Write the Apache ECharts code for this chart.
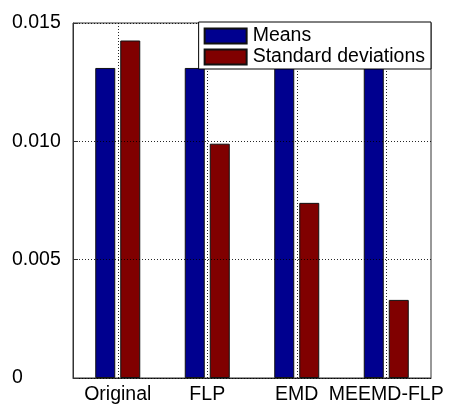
<!DOCTYPE html>
<html>
<head>
<meta charset="utf-8">
<script src="https://cdn.jsdelivr.net/npm/echarts@6/dist/echarts.min.js"></script>
<style>html,body{margin:0;padding:0;background:#fff;}#c{width:449px;height:405px;}</style>
</head>
<body>
<div id="c"></div>
<script>
const categories = ['Original', 'FLP', 'EMD', 'MEEMD-FLP'];
const means = [0.0131, 0.0131, 0.0131, 0.0131];
const stds = [0.01426, 0.0099, 0.0074, 0.0033];
const yTicks = [0, 0.005, 0.010, 0.015];
const seriesNames = ['Means', 'Standard deviations'];

const FONT = 'Liberation Sans, Arial, sans-serif';
const chart = echarts.init(document.getElementById('c'), null, {renderer: 'canvas'});
// helper axis: half-band positions so that split lines fall on category centres
const helperData = [''];
categories.forEach(c => { helperData.push(c); helperData.push(''); });
const dotted = {color: '#000', width: 1, type: [1, 2], opacity: 0.85};
chart.setOption({
  animation: false,
  backgroundColor: '#fff',
  grid: {left: 73, right: 18, top: 23, bottom: 23, show: true, borderColor: '#333', borderWidth: 1},
  legend: {
    right: 18, top: 22, orient: 'vertical', z: 20,
    backgroundColor: '#fff', borderColor: '#000', borderWidth: 1,
    padding: [4, 6, 2, 5], itemGap: 1, itemWidth: 42, itemHeight: 15, icon: 'rect',
    textStyle: {fontFamily: FONT, fontSize: 19.5, color: '#000', padding: [0, 0, 0, 1]},
    data: seriesNames
  },
  xAxis: [{
    type: 'category', data: categories,
    axisLine: {lineStyle: {color: '#333'}},
    axisTick: {show: false},
    axisLabel: {fontFamily: FONT, fontSize: 19.5, color: '#000', margin: 7, interval: 0},
    splitLine: {show: false}
  }, {
    type: 'category', data: helperData, boundaryGap: false, position: 'bottom', z: 10,
    axisLine: {show: false}, axisTick: {show: false}, axisLabel: {show: false},
    splitLine: {show: true, interval: (i) => i % 2 === 1, lineStyle: dotted}
  }],
  yAxis: {
    type: 'value', min: 0, max: 0.015, interval: 0.005, z: 10,
    axisLine: {show: true, lineStyle: {color: '#333'}},
    axisTick: {show: true, inside: true, length: 5, lineStyle: {color: '#333'}},
    axisLabel: {fontFamily: FONT, fontSize: 19.5, color: '#000', align: 'left', margin: 61,
      formatter: v => v === 0 ? '0' : v.toFixed(3)},
    splitLine: {show: true, lineStyle: dotted}
  },
  series: [
    {name: seriesNames[0], type: 'bar', data: means, barWidth: 20, barGap: '25%',
     itemStyle: {color: '#00008F', borderColor: '#111', borderWidth: 1}},
    {name: seriesNames[1], type: 'bar', data: stds, barWidth: 20, barGap: '25%',
     itemStyle: {color: '#800000', borderColor: '#111', borderWidth: 1}}
  ]
});
</script>
</body>
</html>
